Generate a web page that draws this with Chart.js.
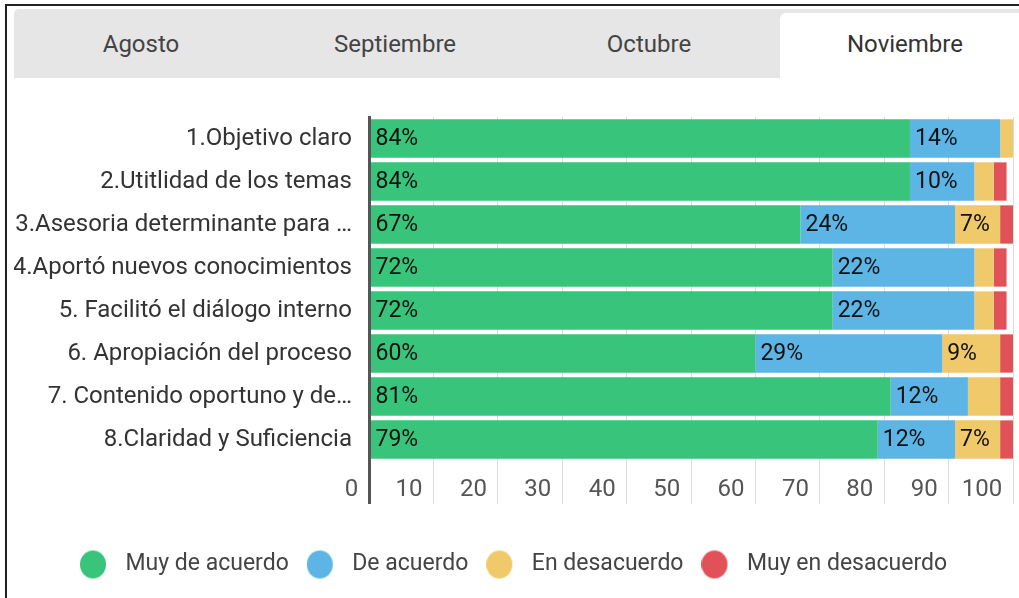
<!DOCTYPE html>
<html>
<head>
<meta charset="utf-8">
<script src="https://cdn.jsdelivr.net/npm/chart.js@4"></script>
<style>
  html, body { margin: 0; padding: 0; background: #fff; }
  body { width: 1019px; height: 598px; position: relative; overflow: hidden; font-family: Roboto, sans-serif; }
  #frameTop { position: absolute; left: 6px; top: 4px; width: 1013px; height: 2px; background: #222; z-index: 3; }
  #frameLeft { position: absolute; left: 5px; top: 4px; width: 2px; height: 594px; background: #222; z-index: 3; }
  #tabs { position: absolute; left: 14px; top: 9px; width: 1005px; height: 69px; background: #e6e6e6; border-top-left-radius: 5px; z-index: 2; }
  .tab { position: absolute; top: 0; height: 69px; line-height: 70px; text-align: center; font-size: 24px; color: #444; }
  .tab.active { background: #fff; top: 4px; height: 65px; line-height: 62px; border-top-left-radius: 6px; color: #333; }
  #wrap { position: absolute; left: 0; top: 0; width: 1019px; height: 598px; z-index: 1; }
</style>
</head>
<body>
<div id="frameTop"></div>
<div id="frameLeft"></div>
<div id="tabs"></div>
<div id="wrap"><canvas id="c" width="1019" height="598"></canvas></div>
<script>
const tabNames = ["Agosto", "Septiembre", "Octubre", "Noviembre"];
const activeTab = "Noviembre";

const categories = [
  "1.Objetivo claro",
  "2.Utitlidad de los temas",
  "3.Asesoria determinante para …",
  "4.Aportó nuevos conocimientos",
  "5. Facilitó el diálogo interno",
  "6. Apropiación del proceso",
  "7. Contenido oportuno y de…",
  "8.Claridad y Suficiencia"
];
const seriesNames = ["Muy de acuerdo", "De acuerdo", "En desacuerdo", "Muy en desacuerdo"];
const muyDeAcuerdo    = [84, 84, 67, 72, 72, 60, 81, 79];
const deAcuerdo       = [14, 10, 24, 22, 22, 29, 12, 12];
const enDesacuerdo    = [2, 3, 7, 3, 3, 9, 5, 7];
const muyEnDesacuerdo = [0, 2, 2, 2, 2, 2, 2, 2];
const xTicks = [0, 10, 20, 30, 40, 50, 60, 70, 80, 90, 100];

const colors = ["#38c47a", "#5db5e5", "#f0c96a", "#e05258"];
const FONT = 'Roboto';
const FS = 23;

// tabs
const tabsEl = document.getElementById('tabs');
tabNames.forEach((name, i) => {
  const d = document.createElement('div');
  const act = name === activeTab;
  d.className = 'tab' + (act ? ' active' : '');
  d.style.left = (i * 254 + (act ? 4 : 0)) + 'px';
  d.style.width = (act ? 250 : 254) + 'px';
  if (act) d.style.paddingRight = '4px';
  d.textContent = name;
  tabsEl.appendChild(d);
});

// legend marker images (circle at left of a wider box)
function marker(color) {
  const cv = document.createElement('canvas');
  cv.width = 34; cv.height = 30;
  const g = cv.getContext('2d');
  g.fillStyle = color;
  g.beginPath();
  g.ellipse(13, 15, 13, 14, 0, 0, Math.PI * 2);
  g.fill();
  return cv;
}
const markers = colors.map(marker);

const valueLabels = {
  id: 'valueLabels',
  afterDatasetsDraw(chart) {
    const ctx = chart.ctx;
    ctx.save();
    ctx.font = FS + 'px ' + FONT;
    ctx.fillStyle = '#111';
    ctx.textBaseline = 'middle';
    ctx.textAlign = 'left';
    chart.data.datasets.forEach((ds, di) => {
      const meta = chart.getDatasetMeta(di);
      meta.data.forEach((el, i) => {
        const v = ds.data[i];
        if (v >= 7) {
          const left = Math.min(el.base, el.x);
          ctx.fillText(v + '%', left + 5, el.y + 1);
        }
      });
    });
    ctx.restore();
  }
};

const series = [muyDeAcuerdo, deAcuerdo, enDesacuerdo, muyEnDesacuerdo];

new Chart(document.getElementById('c'), {
  type: 'bar',
  data: {
    labels: categories,
    datasets: series.map((d, i) => ({
      label: seriesNames[i],
      data: d,
      backgroundColor: colors[i],
      borderWidth: 0,
      categoryPercentage: 1,
      barPercentage: 0.89
    }))
  },
  options: {
    indexAxis: 'y',
    responsive: false,
    animation: false,
    layout: { padding: { top: 117, right: 6, bottom: 12, left: 14 } },
    plugins: {
      tooltip: { enabled: false },
      legend: {
        position: 'bottom',
        labels: {
          usePointStyle: true,
          pointStyleWidth: 34,
          padding: 18,
          color: '#444',
          font: { family: FONT, size: FS },
          generateLabels(chart) {
            const items = Chart.defaults.plugins.legend.labels.generateLabels(chart);
            items.forEach((it, i) => { it.pointStyle = markers[i]; });
            return items;
          }
        }
      }
    },
    scales: {
      x: {
        stacked: true,
        min: 0,
        max: 100,
        afterBuildTicks(scale) { scale.ticks = xTicks.map(v => ({ value: v })); },
        afterFit(scale) { scale.height = 74; },
        grid: {
          color: (c) => (c.tick && c.tick.value === 0 ? '#555' : '#dcdcdc'),
          lineWidth: (c) => (c.tick && c.tick.value === 0 ? 3 : 1),
          drawTicks: true,
          tickLength: 43
        },
        border: { display: false },
        ticks: {
          align: 'end',
          padding: -28,
          color: '#555',
          font: { family: FONT, size: 24 },
          callback: (v) => v + ' \u2009'
        }
      },
      y: {
        stacked: true,
        grid: { display: false, drawTicks: false },
        border: { display: true, color: '#555', width: 3, z: 1 },
        afterFit(scale) { scale.width = 355; },
        ticks: {
          padding: 17,
          color: '#333',
          font: { family: FONT, size: 24 }
        }
      }
    }
  },
  plugins: [valueLabels]
});
</script>
</body>
</html>
